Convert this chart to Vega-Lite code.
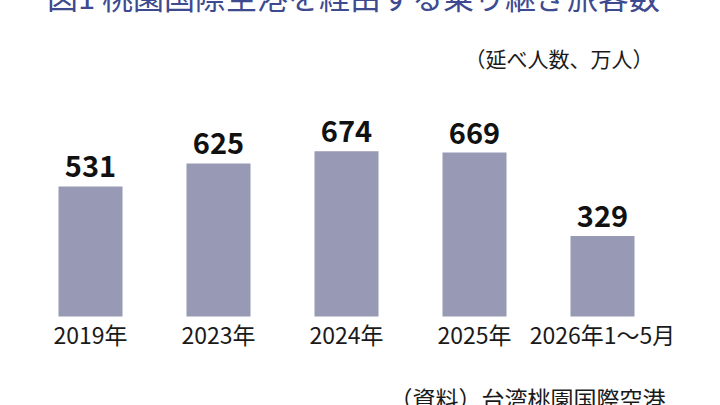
{
  "$schema": "https://vega.github.io/schema/vega-lite/v6.json",
  "width": 640,
  "height": 196,
  "autosize": {"type": "none"},
  "padding": {"left": 26.5, "top": 120.5, "right": 53.5, "bottom": 88.5},
  "background": "white",
  "config": {"view": {"stroke": null}, "font": "Noto Sans CJK JP"},
  "title": {
    "text": "図1 桃園国際空港を経由する乗り継ぎ旅客数",
    "fontSize": 31,
    "fontWeight": "normal",
    "color": "#3d4a8f",
    "anchor": "middle",
    "frame": "group",
    "baseline": "alphabetic",
    "offset": 10,
    "dx": 7
  },
  "data": {
    "values": [
      {"period": "2019年", "value": 531},
      {"period": "2023年", "value": 625},
      {"period": "2024年", "value": 674},
      {"period": "2025年", "value": 669},
      {"period": "2026年1〜5月", "value": 329}
    ]
  },
  "encoding": {
    "x": {
      "field": "period",
      "type": "nominal",
      "sort": null,
      "scale": {"paddingInner": 0.5, "paddingOuter": 0.25},
      "axis": {
        "labelAngle": 0,
        "labelFontSize": 23,
        "labelColor": "#1a1a1a",
        "labelPadding": 9,
        "domain": false,
        "ticks": false,
        "title": "（資料）台湾桃園国際空港",
        "titleFontSize": 23,
        "titleFontWeight": "normal",
        "titleColor": "#1a1a1a",
        "titleAnchor": null,
        "titleAlign": "right",
        "titleBaseline": "middle",
        "titleX": 638.5,
        "titleY": 84
      }
    },
    "y": {
      "field": "value",
      "type": "quantitative",
      "scale": {"domain": [0, 800]},
      "axis": {
        "domain": false,
        "ticks": false,
        "labels": false,
        "grid": false,
        "title": "（延べ人数、万人）",
        "titleAngle": 0,
        "titleFontSize": 21,
        "titleFontWeight": "normal",
        "titleColor": "#1a1a1a",
        "titleAlign": "right",
        "titleBaseline": "middle",
        "titleAnchor": null,
        "titleX": 626.5,
        "titleY": -60
      }
    }
  },
  "layer": [
    {"mark": {"type": "bar", "color": "#9899b4"}},
    {
      "mark": {"type": "text", "fontSize": 29, "fontWeight": "bold", "baseline": "alphabetic", "dy": -9, "color": "#111111"},
      "encoding": {"text": {"field": "value", "type": "quantitative"}}
    }
  ]
}
